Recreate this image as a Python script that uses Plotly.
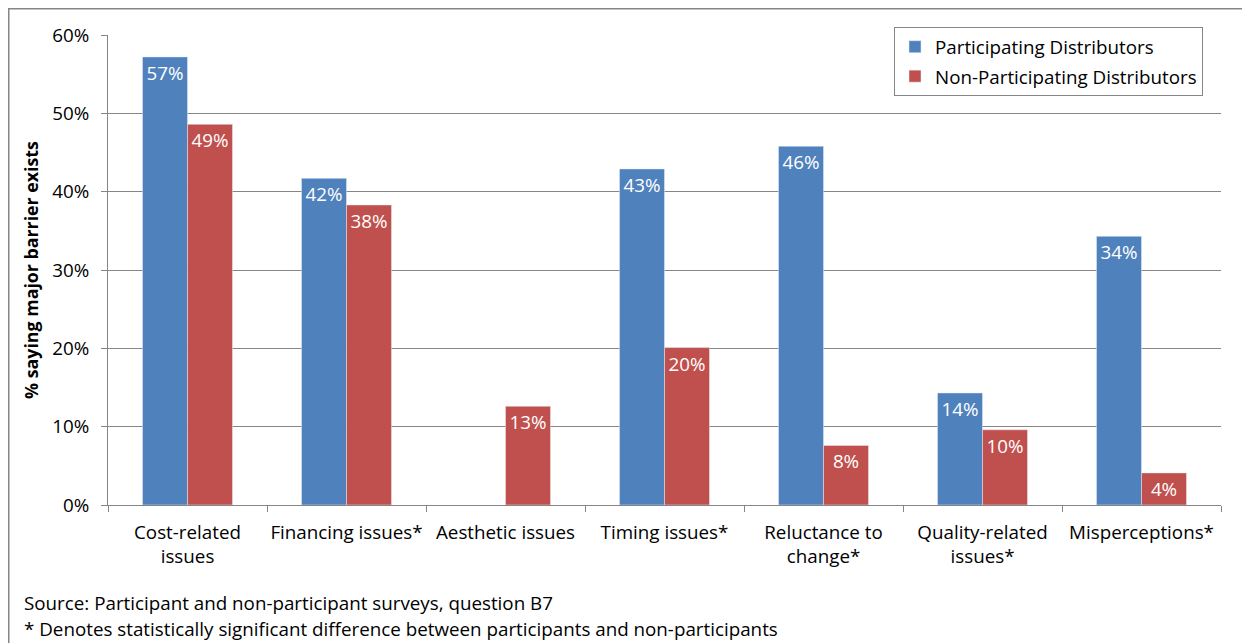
import plotly.graph_objects as go

categories = ["Cost-related<br>issues", "Financing issues*", "Aesthetic issues", "Timing issues*",
              "Reluctance to<br>change*", "Quality-related<br>issues*", "Misperceptions*"]
participating = [0.572, 0.417, None, 0.429, 0.458, 0.143, 0.343]
non_participating = [0.486, 0.383, 0.126, 0.201, 0.076, 0.096, 0.041]
y_ticks = [0, 0.1, 0.2, 0.3, 0.4, 0.5, 0.6]
y_ticklabels = ["0%", "10%", "20%", "30%", "40%", "50%", "60%"]

FONT = "Open Sans"
GRID = "#868686"
FS = 18.8

fig = go.Figure()
fig.add_trace(go.Bar(
    name="Participating Distributors", x=categories, y=participating,
    legendgroup="p",
    marker=dict(color="#4F81BD"),
    texttemplate="%{y:.0%}", textposition="inside", insidetextanchor="end",
    textfont=dict(color="white", size=FS, family=FONT), constraintext="none",
))
fig.add_trace(go.Bar(
    name="Non-Participating Distributors", x=categories, y=non_participating,
    legendgroup="n",
    marker=dict(color="#C0504D"),
    texttemplate="%{y:.0%}", textposition="inside", insidetextanchor="end",
    textfont=dict(color="white", size=FS, family=FONT), constraintext="none",
))

# figure is placed at (8, 8) in the page; coordinates below are figure pixels
W, H = 1242, 635
L, R, T, B = 100, 29, 27, 138
pw, ph = W - L - R, H - T - B

def px_x(x):
    return (x - L) / pw

def px_y(y):
    return (H - B - y) / ph

fig.update_layout(
    width=W, height=H,
    margin=dict(l=L, r=R, t=T, b=B, pad=0, autoexpand=False),
    paper_bgcolor="white", plot_bgcolor="white",
    barmode="group", bargap=0.434, bargroupgap=0,
    font=dict(family=FONT, size=FS, color="black"),
    showlegend=True,
    legend=dict(
        x=px_x(886), y=px_y(19), xanchor="left", yanchor="top",
        bgcolor="white", bordercolor=GRID, borderwidth=1,
        font=dict(size=FS, family=FONT), traceorder="grouped", tracegroupgap=2,
        itemwidth=30,
    ),
    xaxis=dict(
        showline=True, linecolor=GRID, linewidth=1,
        ticks="outside", ticklen=6, tickcolor=GRID, tickson="boundaries",
        tickfont=dict(size=FS, family=FONT), showgrid=False, ticklabelstandoff=10,
        tickangle=0, automargin=False,
    ),
    yaxis=dict(
        range=[0, 0.6], tickvals=y_ticks, ticktext=y_ticklabels,
        showline=True, linecolor=GRID, linewidth=1,
        ticks="outside", ticklen=6, tickcolor=GRID,
        showgrid=True, gridcolor=GRID, gridwidth=1,
        tickfont=dict(size=FS, family=FONT), zeroline=False, ticklabelstandoff=8,
        automargin=False,
        title=dict(text="<b>% saying major barrier exists</b>", font=dict(size=17.8, family=FONT), standoff=8),
    ),
    shapes=[dict(
        type="rect", xref="paper", yref="paper",
        x0=px_x(0.75), x1=px_x(1240), y0=px_y(700), y1=px_y(0.75),
        line=dict(color=GRID, width=1.5), fillcolor="rgba(0,0,0,0)", layer="below",
    )],
    annotations=[
        dict(text="Source: Participant and non-participant surveys, question B7",
             xref="paper", yref="paper", x=px_x(14), y=px_y(595), xanchor="left", yanchor="middle",
             showarrow=False, font=dict(size=FS, family=FONT)),
        dict(text="* Denotes statistically significant difference between participants and non-participants",
             xref="paper", yref="paper", x=px_x(14), y=px_y(621), xanchor="left", yanchor="middle",
             showarrow=False, font=dict(size=FS, family=FONT)),
    ],
)

fig.write_html("out.html")
